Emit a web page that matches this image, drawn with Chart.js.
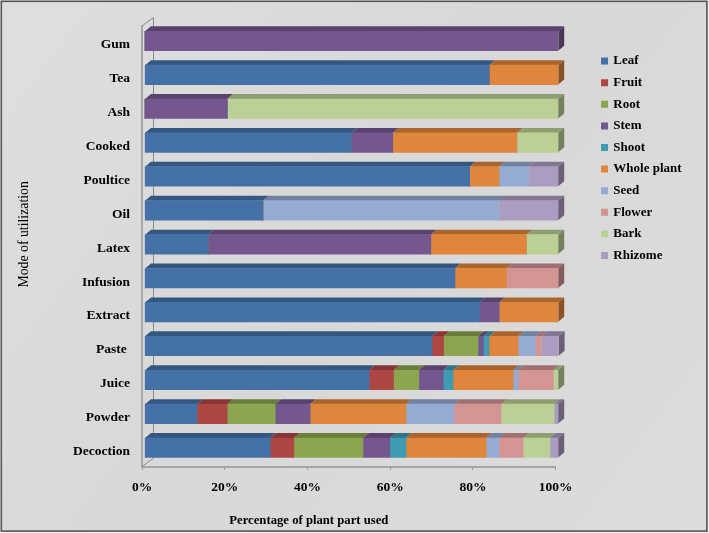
<!DOCTYPE html>
<html><head><meta charset="utf-8">
<style>html,body{margin:0;padding:0;background:#fff;overflow:hidden}#w{width:709px;height:533px}canvas{display:block;filter:blur(0.4px)}</style>
<script src="https://cdn.jsdelivr.net/npm/chart.js@4/dist/chart.umd.js"></script>
</head><body><div id="w"><canvas id="c" width="709" height="533"></canvas></div>
<script>
const categories = ['Gum','Tea','Ash','Cooked','Poultice','Oil','Latex','Infusion','Extract','Paste ','Juice','Powder','Decoction'];
const leaf    = [0,83.3,0,50,78.6,28.6,15.4,75,81,69.5,54.3,12.7,30.4];
const fruit   = [0,0,0,0,0,0,0,0,0,2.8,5.9,7.3,5.7];
const root    = [0,0,0,0,0,0,0,0,0,8.3,6.1,11.6,16.7];
const stem    = [100,0,20,10,0,0,53.8,0,4.7,1.3,5.9,8.4,6.5];
const shoot   = [0,0,0,0,0,0,0,0,0,1.4,2.4,0,3.9];
const whole   = [0,16.7,0,30,7.1,0,23.1,12.5,14.3,7,14.5,23.2,19.4];
const seed    = [0,0,0,0,7.1,57.1,0,0,0,4.2,1.2,11.6,3.1];
const flower  = [0,0,0,0,0,0,0,12.5,0,1.4,8.5,11.4,5.8];
const bark    = [0,0,80,10,0,0,7.7,0,0,0,1.2,12.8,6.5];
const rhizome = [0,0,0,0,7.2,14.3,0,0,0,4.2,0,1,2];
const seriesNames = ['Leaf','Fruit','Root','Stem','Shoot','Whole plant','Seed','Flower','Bark','Rhizome'];
const seriesValues = [leaf,fruit,root,stem,shoot,whole,seed,flower,bark,rhizome];
const seriesColors = ['#4472A8','#AE4644','#8BA64E','#75578F','#3F9AB3','#E0853C','#95ABD3','#D39493','#BBD094','#AB9CC2'];
const xTicks = [0,20,40,60,80,100];

const DX = 6, DY = 5, SHIFT_X = 2.5, SHIFT_Y = -2;
const FONT = '"Liberation Serif","Times New Roman",serif';

function shade(hex, f){
  const n = parseInt(hex.slice(1),16);
  const c = s => Math.round(((n>>s)&255)*f);
  return `rgb(${c(16)},${c(8)},${c(0)})`;
}
function poly(ctx, pts, fill){
  ctx.beginPath();
  pts.forEach((p,i)=> i?ctx.lineTo(p[0],p[1]):ctx.moveTo(p[0],p[1]));
  ctx.closePath(); ctx.fillStyle = fill; ctx.fill();
}
function nudge(scale, method, dx, dy){
  const orig = scale[method];
  scale[method] = function(...a){
    const ctx = this.ctx; ctx.save(); ctx.translate(dx,dy);
    orig.apply(this,a); ctx.restore();
  };
}

const frame = {
  id:'frame',
  beforeDraw(chart){
    const {ctx,width:w,height:h} = chart;
    ctx.save();
    ctx.fillStyle='#f4f4f4'; ctx.fillRect(0,0,w,h);
    const g = ctx.createLinearGradient(0,0,w,h);
    g.addColorStop(0,'#dedede'); g.addColorStop(.5,'#d8d8d8'); g.addColorStop(1,'#dcdcdc');
    ctx.fillStyle=g; ctx.fillRect(1,1,w-3,h-3);
    ctx.strokeStyle='#555'; ctx.lineWidth=1.6;
    ctx.strokeRect(1.3,1.3,w-3.4,h-3.2);
    ctx.restore();
  },
  afterLayout(chart){
    const l = chart.legend;
    l.left=593.7; l.right=709; l.top=46; l.bottom=302;
    const {x,y} = chart.scales;
    if(!x.__n){
      x.__n = true;
      nudge(x,'drawTitle',-40,1.8);
      nudge(y,'drawTitle',16.5,-12);
      nudge(y,'drawLabels',0,1.8);
    }
  },
  beforeDatasetsDraw(chart){
    const {ctx,chartArea:a} = chart;
    ctx.save();
    ctx.lineWidth=1; ctx.strokeStyle='#8a8a8a';
    ctx.beginPath();
    ctx.moveTo(a.left,a.top); ctx.lineTo(a.left+11.5,a.top-8.5);
    ctx.lineTo(a.left+11.5,a.bottom-8.5); ctx.lineTo(a.left,a.bottom);
    ctx.stroke();
    ctx.restore();
    ctx.save();
    ctx.translate(SHIFT_X,SHIFT_Y);
    chart.data.datasets.forEach((ds,i)=>{
      const meta = chart.getDatasetMeta(i);
      meta.data.forEach((bar,j)=>{
        if(!ds.data[j]) return;
        const p = bar.getProps(['x','y','base','height'],true);
        const top = p.y-p.height/2;
        poly(ctx,[[p.base,top],[p.base+DX,top-DY],[p.x+DX,top-DY],[p.x,top]],shade(ds.backgroundColor,.76));
        const isLast = !chart.data.datasets.slice(i+1).some(o=>o.data[j]);
        if(isLast){
          const bottom = p.y+p.height/2;
          poly(ctx,[[p.x,top],[p.x+DX,top-DY],[p.x+DX,bottom-DY],[p.x,bottom]],shade(ds.backgroundColor,.62));
        }
      });
    });
    ctx.restore();
    ctx.save();
    ctx.translate(SHIFT_X,SHIFT_Y);
  },
  afterDatasetsDraw(chart){ chart.ctx.restore(); }
};

new Chart(document.getElementById('c'),{
  type:'bar',
  data:{labels:categories,datasets:seriesNames.map((n,i)=>({label:n,data:seriesValues[i],backgroundColor:seriesColors[i],borderWidth:0,barThickness:19.4}))},
  plugins:[frame],
  options:{
    indexAxis:'y',responsive:false,animation:false,devicePixelRatio:1,
    layout:{padding:{left:0,top:26,right:153.3,bottom:0}},
    scales:{
      x:{
        stacked:true,min:0,max:100,
        afterFit:s=>{s.height=66.3;},
        afterBuildTicks:s=>{s.ticks=xTicks.map(v=>({value:v}));},
        ticks:{callback:v=>v+'%',color:'#000',font:{family:FONT,size:13.5,weight:'bold'},padding:10,maxRotation:0},
        grid:{drawOnChartArea:false,drawTicks:true,tickLength:3,color:'#8a8a8a',lineWidth:1},
        border:{color:'#a6a6a6',width:2},
        title:{display:true,text:'Percentage of plant part used',color:'#000',font:{family:FONT,size:12.7,weight:'bold'},padding:{top:0,bottom:6}}
      },
      y:{
        stacked:true,
        afterFit:s=>{s.width=142;},
        ticks:{color:'#000',font:{family:FONT,size:13.5,weight:'bold'},padding:12,autoSkip:false},
        grid:{drawOnChartArea:false,drawTicks:false},
        border:{color:'#a6a6a6',width:2},
        title:{display:true,text:'Mode of utilization',color:'#000',font:{family:FONT,size:13.8},padding:{top:0,bottom:0}}
      }
    },
    plugins:{
      tooltip:{enabled:false},
      legend:{
        position:'chartArea',align:'start',
        labels:{
          boxWidth:4.5,boxHeight:4.5,padding:8.6,color:'#000',
          font:{family:FONT,size:13,weight:'bold'},
          generateLabels:c=>c.data.datasets.map((d,i)=>({text:d.label,fillStyle:d.backgroundColor,strokeStyle:d.backgroundColor,lineWidth:2.5,datasetIndex:i,fontColor:'#000'}))
        }
      }
    }
  }
});
</script></body></html>
